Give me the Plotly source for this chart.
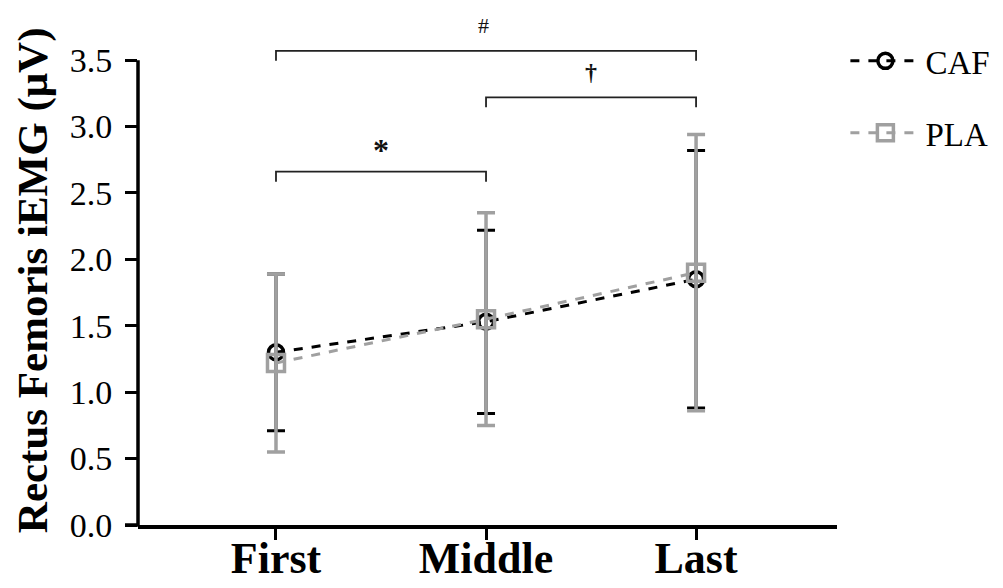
import plotly.graph_objects as go

categories = ["First", "Middle", "Last"]
x_pos = [0, 1, 2]
caf_mean = [1.30, 1.53, 1.85]
caf_sd = [0.59, 0.69, 0.97]
pla_mean = [1.22, 1.55, 1.90]
pla_sd = [0.67, 0.80, 1.04]

y_ticks = [0.0, 0.5, 1.0, 1.5, 2.0, 2.5, 3.0, 3.5]
y_tick_text = ["0.0", "0.5", "1.0", "1.5", "2.0", "2.5", "3.0", "3.5"]
y_title = "Rectus Femoris iEMG (μV)"

# significance brackets: (x_start, x_end, y_level, label)
brackets = [
    (0, 2, 3.57, "#"),
    (1, 2, 3.22, "†"),
    (0, 1, 2.66, "*"),
]
# label positions (x, y) for the bracket labels
bracket_label_pos = [(0.99, 3.76), (1.5, 3.41), (0.5, 2.82)]

SERIF = "Liberation Serif, Times New Roman, serif"
GRAY = "#a0a0a0"

fig = go.Figure()

fig.add_trace(go.Scatter(
    x=x_pos, y=caf_mean, name="CAF", mode="lines+markers",
    line=dict(color="black", width=3, dash="dash"),
    marker=dict(symbol="circle-open", size=15, color="black", line=dict(width=3.5)),
    error_y=dict(type="data", array=caf_sd, visible=True, color="black", thickness=3, width=9),
    legendgroup="caf",
))
fig.add_trace(go.Scatter(
    x=x_pos, y=pla_mean, name="PLA", mode="lines+markers",
    line=dict(color=GRAY, width=3, dash="dash"),
    marker=dict(symbol="square-open", size=17, color=GRAY, line=dict(width=3.5)),
    error_y=dict(type="data", array=pla_sd, visible=True, color=GRAY, thickness=3.5, width=9),
    legendgroup="pla",
))

drop = 0.075
for x0, x1, yl, lab in brackets:
    fig.add_trace(go.Scatter(
        x=[x0, x0, x1, x1], y=[yl - drop, yl, yl, yl - drop], mode="lines",
        line=dict(color="#222222", width=1.8), showlegend=False, hoverinfo="skip",
    ))

label_style = {"#": (22, "normal"), "†": (24, "bold"), "*": (32, "bold")}
for (x0, x1, yl, lab), (xa, ya) in zip(brackets, bracket_label_pos):
    fs, wt = label_style[lab]
    fig.add_annotation(x=xa, y=ya, text=lab, showarrow=False,
                       font=dict(family=SERIF, size=fs, color="#111111", weight=wt))

# y-axis title as rotated annotation (centred slightly below the plot middle, as in the reference)
fig.add_annotation(x=-0.150, y=0.473, xref="paper", yref="paper", text=y_title,
                   textangle=-90, showarrow=False, xanchor="center", yanchor="middle",
                   font=dict(family=SERIF, size=43, color="black", weight="bold"))

YMAX = 3.9
fig.add_shape(type="line", xref="paper", yref="paper", x0=0, x1=0, y0=0, y1=3.5 / YMAX,
              line=dict(color="black", width=3.5))
fig.add_shape(type="line", xref="paper", yref="paper", x0=-13 / 699, x1=0, y0=0, y1=0,
              line=dict(color="black", width=3.5))

fig.update_layout(
    width=1003, height=588,
    margin=dict(l=138, r=166, t=7, b=63),
    paper_bgcolor="white", plot_bgcolor="white",
    showlegend=True,
    legend=dict(x=1.012, y=0.95, xanchor="left", yanchor="top",
                xref="paper", yref="paper",
                font=dict(family=SERIF, size=33, color="black"),
                tracegroupgap=26, traceorder="grouped",
                itemwidth=70, bgcolor="rgba(0,0,0,0)"),
    xaxis=dict(range=[-0.657, 2.671], tickvals=x_pos, ticktext=categories,
               showgrid=False, zeroline=False, showline=True, linecolor="black", linewidth=3.5,
               ticks="outside", ticklen=11, tickwidth=3, tickcolor="black",
               tickfont=dict(family=SERIF, size=44, color="black", weight="bold"),
               ticklabelstandoff=-20,
               automargin=False),
    yaxis=dict(range=[0, YMAX], tickvals=y_ticks, ticktext=y_tick_text,
               showgrid=False, zeroline=False, showline=False,
               ticks="outside", ticklen=12, tickwidth=3, tickcolor="black",
               tickfont=dict(family=SERIF, size=34, color="black"),
               ticklabelstandoff=6,
               automargin=False),
)

fig.write_html("out.html")
